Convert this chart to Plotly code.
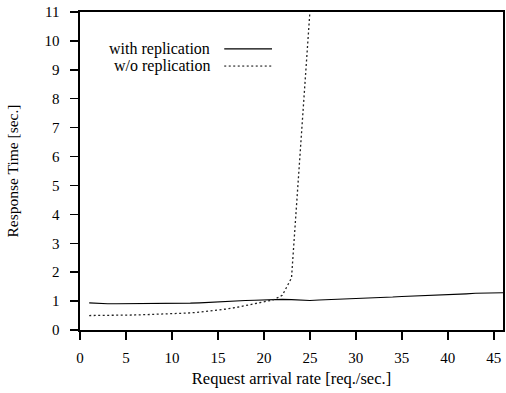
import plotly.graph_objects as go

# with replication (solid)
x_with = list(range(1, 47))
y_with = [0.94, 0.92, 0.91, 0.91, 0.91, 0.91, 0.92, 0.92, 0.92, 0.92,
          0.93, 0.93, 0.94, 0.96, 0.97, 0.98, 1.00, 1.02, 1.03, 1.04,
          1.06, 1.06, 1.05, 1.03, 1.02, 1.04, 1.05, 1.06, 1.08, 1.09,
          1.10, 1.11, 1.13, 1.14, 1.16, 1.17, 1.18, 1.19, 1.20, 1.22,
          1.23, 1.25, 1.27, 1.28, 1.29, 1.29]

# w/o replication (dotted)
x_without = list(range(1, 26))
y_without = [0.50, 0.50, 0.50, 0.50, 0.51, 0.52, 0.53, 0.54, 0.55, 0.56,
             0.57, 0.59, 0.62, 0.65, 0.69, 0.73, 0.78, 0.84, 0.90, 0.97,
             1.04, 1.20, 1.80, 6.40, 11.0]

series_names = ["with replication", "w/o replication"]
x_ticks = [0, 5, 10, 15, 20, 25, 30, 35, 40, 45]
y_ticks = list(range(0, 12))

FONT = "Liberation Serif"
DOT = "2px,2.5px"

fig = go.Figure()
fig.add_trace(go.Scatter(x=x_with, y=y_with, mode="lines", name=series_names[0],
                         line=dict(color="black", width=1.1), showlegend=False))
fig.add_trace(go.Scatter(x=x_without, y=y_without, mode="lines", name=series_names[1],
                         line=dict(color="#222", width=1.3, dash=DOT), showlegend=False))

# legend drawn as text + sample lines (paper coords)
leg_y = [0.884, 0.830]
dashes = ["solid", DOT]
for name, yy, d in zip(series_names, leg_y, dashes):
    fig.add_annotation(x=0.311, y=yy, xref="paper", yref="paper", text=name,
                       showarrow=False, xanchor="right", yanchor="middle",
                       font=dict(family=FONT, size=16, color="black"))
    fig.add_shape(type="line", xref="paper", yref="paper",
                  x0=0.341, x1=0.454, y0=yy, y1=yy,
                  line=dict(color="black", width=1.1 if d == "solid" else 1.0, dash=d))

axis_common = dict(showline=True, linecolor="black", linewidth=1.6, mirror=True,
                   ticks="outside", ticklen=8, tickwidth=1.5, tickcolor="black",
                   showgrid=False, zeroline=False, ticklabeloverflow="allow",
                   tickfont=dict(family=FONT, size=15, color="black"))

fig.update_layout(
    width=506, height=393,
    margin=dict(l=80, r=1, t=12, b=63),
    plot_bgcolor="white", paper_bgcolor="white",
    hovermode=False,
    xaxis=dict(range=[0, 46], tickvals=x_ticks, ticklabelstandoff=5,
               title=dict(text="Request arrival rate [req./sec.]",
                          font=dict(family=FONT, size=16.5, color="black"), standoff=8),
               **axis_common),
    yaxis=dict(range=[0, 11], tickvals=y_ticks, ticklabelstandoff=8,
               title=dict(text="Response Time [sec.]",
                          font=dict(family=FONT, size=15.5, color="black"), standoff=22),
               **axis_common),
)

fig.write_html("out.html",
               config={"displayModeBar": False, "staticPlot": True},
               post_script="document.body.style.margin='0';document.body.style.overflow='hidden';")
